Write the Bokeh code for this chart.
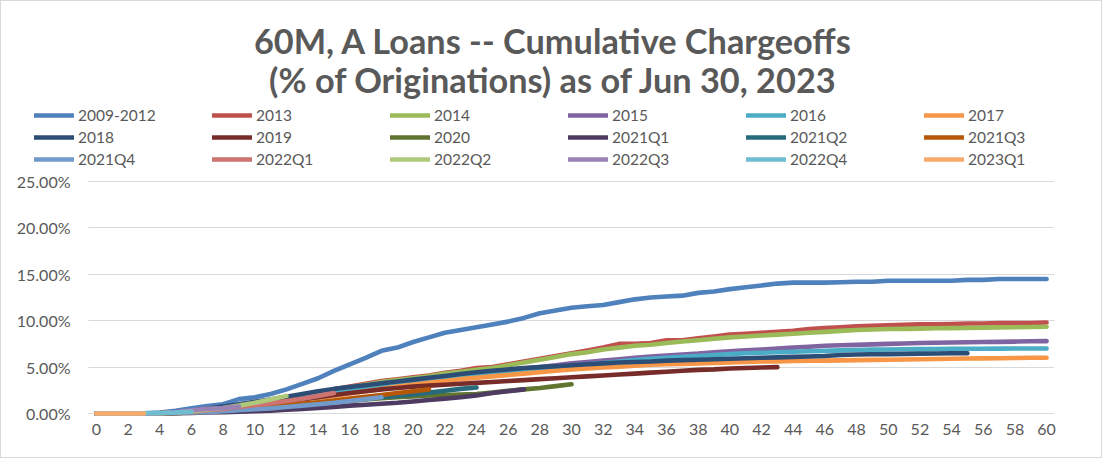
from bokeh.plotting import figure
from bokeh.models import (ColumnDataSource, Legend, LegendItem, Label, FixedTicker,
                          Range1d, Grid)
from bokeh.core.properties import value
from bokeh.embed import file_html
from bokeh.resources import INLINE

title_line1 = "60M, A Loans -- Cumulative Chargeoffs"
title_line2 = "(% of Originations) as of Jun 30, 2023"

x_ticks = list(range(0, 61, 2))
y_ticks = [0, 5, 10, 15, 20, 25]
y_tick_labels = ["0.00%", "5.00%", "10.00%", "15.00%", "20.00%", "25.00%"]

names = ["2009-2012", "2013", "2014", "2015", "2016", "2017",
         "2018", "2019", "2020", "2021Q1", "2021Q2", "2021Q3",
         "2021Q4", "2022Q1", "2022Q2", "2022Q3", "2022Q4", "2023Q1"]

colors = ["#4F81BD", "#C0504D", "#9BBB59", "#8064A2", "#4BACC6", "#F79646",
          "#2C4D75", "#772C2A", "#5F7530", "#4D3B62", "#276A7C", "#B65708",
          "#729ACA", "#CD7371", "#AFC97A", "#9983B5", "#6FBDD1", "#F9AB6B"]

# cumulative chargeoffs in % of originations, by months since origination (0..n)
s2009_2012 = [0, 0, 0, 0.02, 0.1, 0.3, 0.55, 0.8, 1.0, 1.55, 1.75, 2.1, 2.6, 3.2, 3.8, 4.6,
              5.3, 6.0, 6.75, 7.1, 7.7, 8.2, 8.7, 9.0, 9.3, 9.6, 9.9, 10.3, 10.8, 11.1, 11.4,
              11.55, 11.7, 12.0, 12.3, 12.5, 12.6, 12.7, 13.0, 13.15, 13.4, 13.6, 13.8, 14.0,
              14.1, 14.1, 14.1, 14.15, 14.2, 14.2, 14.3, 14.3, 14.3, 14.3, 14.3, 14.4, 14.4,
              14.5, 14.5, 14.5, 14.5]
s2013 = [0, 0, 0, 0, 0.02, 0.1, 0.3, 0.5, 0.7, 0.9, 1.1, 1.4, 1.7, 2.0, 2.3, 2.6, 2.9, 3.2,
         3.5, 3.7, 3.9, 4.1, 4.4, 4.6, 4.9, 5.0, 5.3, 5.6, 5.9, 6.2, 6.5, 6.8, 7.1, 7.5, 7.5,
         7.6, 7.9, 7.9, 8.1, 8.3, 8.5, 8.6, 8.7, 8.8, 8.9, 9.1, 9.2, 9.3, 9.4, 9.45, 9.5, 9.55,
         9.6, 9.6, 9.65, 9.7, 9.7, 9.75, 9.75, 9.75, 9.8]
s2014 = [0, 0, 0, 0, 0.02, 0.1, 0.25, 0.45, 0.65, 0.85, 1.05, 1.3, 1.6, 1.9, 2.2, 2.5, 2.8,
         3.1, 3.4, 3.6, 3.8, 4.0, 4.3, 4.5, 4.7, 4.9, 5.2, 5.5, 5.8, 6.1, 6.4, 6.6, 6.9, 7.1,
         7.3, 7.4, 7.6, 7.75, 7.9, 8.05, 8.2, 8.3, 8.4, 8.5, 8.6, 8.7, 8.8, 8.9, 9.0, 9.05,
         9.1, 9.12, 9.15, 9.18, 9.2, 9.22, 9.25, 9.28, 9.3, 9.32, 9.35]
s2015 = [0, 0, 0, 0, 0.02, 0.1, 0.25, 0.4, 0.6, 0.8, 1.0, 1.25, 1.5, 1.75, 2.0, 2.3, 2.55,
         2.8, 3.05, 3.3, 3.5, 3.7, 3.9, 4.1, 4.3, 4.5, 4.7, 4.85, 5.0, 5.2, 5.4, 5.55, 5.7,
         5.85, 6.0, 6.15, 6.25, 6.35, 6.45, 6.6, 6.7, 6.8, 6.9, 7.0, 7.1, 7.2, 7.3, 7.35,
         7.4, 7.45, 7.5, 7.55, 7.6, 7.62, 7.65, 7.68, 7.7, 7.72, 7.75, 7.78, 7.8]
s2016 = [0, 0, 0, 0, 0.02, 0.1, 0.25, 0.4, 0.6, 0.8, 1.0, 1.2, 1.45, 1.7, 1.95, 2.2, 2.45,
         2.7, 2.95, 3.2, 3.4, 3.6, 3.8, 4.0, 4.2, 4.4, 4.55, 4.7, 4.85, 5.0, 5.15, 5.3, 5.45,
         5.6, 5.75, 5.9, 6.0, 6.1, 6.2, 6.3, 6.4, 6.5, 6.55, 6.6, 6.65, 6.7, 6.75, 6.8, 6.85,
         6.88, 6.9, 6.92, 6.94, 6.95, 6.96, 6.97, 6.98, 6.99, 7.0, 7.0, 7.0]
s2017 = [0, 0, 0, 0, 0.02, 0.1, 0.2, 0.35, 0.5, 0.7, 0.9, 1.1, 1.3, 1.5, 1.7, 1.9, 2.15,
         2.4, 2.65, 2.9, 3.1, 3.3, 3.5, 3.7, 3.85, 4.0, 4.15, 4.3, 4.45, 4.6, 4.75, 4.85,
         4.95, 5.05, 5.15, 5.25, 5.3, 5.35, 5.4, 5.45, 5.5, 5.55, 5.6, 5.62, 5.65, 5.68,
         5.7, 5.73, 5.75, 5.78, 5.8, 5.82, 5.85, 5.87, 5.9, 5.92, 5.94, 5.96, 5.98, 6.0, 6.0]
s2018 = [0, 0, 0, 0, 0.05, 0.15, 0.3, 0.5, 0.75, 1.0, 1.25, 1.5, 1.8, 2.1, 2.4, 2.65, 2.85,
         3.05, 3.25, 3.45, 3.65, 3.85, 4.05, 4.25, 4.45, 4.6, 4.75, 4.9, 5.0, 5.1, 5.2, 5.3,
         5.4, 5.5, 5.55, 5.6, 5.7, 5.75, 5.8, 5.85, 5.9, 5.95, 6.0, 6.05, 6.1, 6.15, 6.2,
         6.3, 6.35, 6.38, 6.4, 6.42, 6.45, 6.47, 6.5, 6.5]
s2019 = [0, 0, 0, 0, 0.02, 0.1, 0.2, 0.35, 0.5, 0.7, 0.9, 1.1, 1.35, 1.55, 1.75, 2.0, 2.2,
         2.4, 2.6, 2.75, 2.9, 3.0, 3.1, 3.2, 3.3, 3.4, 3.5, 3.6, 3.7, 3.8, 3.9, 4.0, 4.1,
         4.2, 4.3, 4.4, 4.5, 4.6, 4.7, 4.75, 4.85, 4.9, 4.95, 5.0]
s2020 = [0, 0, 0, 0, 0.02, 0.05, 0.1, 0.2, 0.3, 0.4, 0.5, 0.6, 0.75, 0.9, 1.05, 1.2, 1.35,
         1.5, 1.65, 1.75, 1.85, 1.95, 2.0, 2.05, 2.1, 2.25, 2.45, 2.6, 2.75, 2.95, 3.15]
s2021q1 = [0, 0, 0, 0, 0, 0.02, 0.05, 0.1, 0.15, 0.2, 0.25, 0.3, 0.4, 0.5, 0.6, 0.7, 0.85,
           0.95, 1.05, 1.15, 1.3, 1.45, 1.6, 1.75, 1.95, 2.2, 2.4, 2.6]
s2021q2 = [0, 0, 0, 0, 0.02, 0.05, 0.1, 0.2, 0.3, 0.4, 0.55, 0.7, 0.85, 1.0, 1.15, 1.3,
           1.45, 1.6, 1.75, 1.9, 2.05, 2.25, 2.45, 2.65, 2.8]
s2021q3 = [0, 0, 0, 0, 0.02, 0.05, 0.1, 0.2, 0.3, 0.45, 0.6, 0.75, 0.9, 1.05, 1.2, 1.4,
           1.6, 1.8, 2.0, 2.2, 2.4, 2.6]
s2021q4 = [0, 0, 0, 0, 0.02, 0.05, 0.1, 0.15, 0.25, 0.35, 0.45, 0.55, 0.7, 0.85, 1.0, 1.15,
           1.35, 1.55, 1.75]
s2022q1 = [0, 0, 0, 0, 0.02, 0.1, 0.2, 0.35, 0.5, 0.7, 0.9, 1.1, 1.35, 1.6, 1.9, 2.2]
s2022q2 = [0, 0, 0, 0, 0.02, 0.1, 0.25, 0.4, 0.6, 0.85, 1.15, 1.5, 1.9]
s2022q3 = [0, 0, 0, 0, 0.05, 0.15, 0.35, 0.5, 0.6, 0.75]
s2022q4 = [0, 0, 0, 0.02, 0.05, 0.1, 0.2]
s2023q1 = [0, 0, 0, 0]

series = [s2009_2012, s2013, s2014, s2015, s2016, s2017, s2018, s2019, s2020,
          s2021q1, s2021q2, s2021q3, s2021q4, s2022q1, s2022q2, s2022q3, s2022q4, s2023q1]

TEXT = "#595959"
FONT = "Lato"

# layout (pixels inside the figure)
W, H = 1102, 458
PLOT_L, PLOT_R = 87, 1053          # plot-area left/right edge
PLOT_T, PLOT_B = 180, 412          # 25% line / 0% line
FRAME_B = 424                      # frame bottom (room for the 0.00% label)
XMIN, XMAX = -0.5, 60.5
YMIN, YMAX = 0, 25
px_x = (PLOT_R - PLOT_L) / (XMAX - XMIN)
px_y = (PLOT_B - PLOT_T) / (YMAX - YMIN)

p = figure(width=W, height=H, output_backend="svg", toolbar_location=None,
           x_range=Range1d(XMIN - PLOT_L / px_x, XMAX),
           y_range=Range1d(YMIN - (FRAME_B - PLOT_B) / px_y, YMAX + PLOT_T / px_y),
           title=None, y_axis_location=None,
           min_border_left=0, min_border_right=W - PLOT_R, min_border_top=0,
           min_border_bottom=H - FRAME_B)
p.outline_line_color = None
p.background_fill_color = "white"
p.border_fill_color = "white"
p.styles = {"border": "1px solid #D9D9D9"}
for g in p.grid:
    g.visible = False

# horizontal gridlines, limited to the plot area
grid = Grid(dimension=1, ticker=FixedTicker(ticks=y_ticks), grid_line_color="#D9D9D9",
            grid_line_width=1)
if "cross_bounds" in Grid.properties():
    grid.cross_bounds = (XMIN, XMAX)
    p.add_layout(grid, "center")
else:
    p.segment(x0=[XMIN] * len(y_ticks), x1=[XMAX] * len(y_ticks), y0=y_ticks, y1=y_ticks,
              line_color="#D9D9D9", line_width=1, level="underlay")

# y tick labels (percent axis)
p.text(x=[XMIN] * len(y_ticks), y=y_ticks, text=y_tick_labels, x_offset=-18,
       text_align="right", text_baseline="middle", text_font=value(FONT),
       text_font_size="16px", text_color=TEXT)

p.xaxis.ticker = FixedTicker(ticks=x_ticks)
p.xaxis.axis_line_color = None
p.xaxis.major_tick_line_color = None
p.xaxis.minor_tick_line_color = None
p.xaxis.major_label_text_color = TEXT
p.xaxis.major_label_text_font = FONT
p.xaxis.major_label_text_font_size = "16px"
p.xaxis.major_label_standoff = 4 - (FRAME_B - PLOT_B)

items = []
for name, col, vals in zip(names, colors, series):
    src = ColumnDataSource(dict(x=list(range(len(vals))), y=vals))
    r = p.line("x", "y", source=src, line_color=col, line_width=4.6,
               line_cap="round", line_join="round")
    items.append(LegendItem(label=name, renderers=[r]))

legend = Legend(items=items, ncols=6, orientation="horizontal",
                location=(33, FRAME_B - 168), padding=0, margin=0, spacing=2,
                glyph_width=40, glyph_height=20, label_height=20, label_width=132,
                label_standoff=4, label_text_font=FONT, label_text_font_size="15.5px",
                label_text_color=TEXT, border_line_color=None,
                background_fill_alpha=0)
p.add_layout(legend, "center")

for txt, base in ((title_line1, 39), (title_line2, 78)):
    p.add_layout(Label(x=552, y=FRAME_B - base, x_units="screen", y_units="screen",
                       text=txt, text_align="center", text_baseline="alphabetic",
                       text_font=FONT, text_font_style="bold", text_font_size="34.3px",
                       text_color=TEXT))

open("out.html", "w").write(file_html(p, INLINE))
